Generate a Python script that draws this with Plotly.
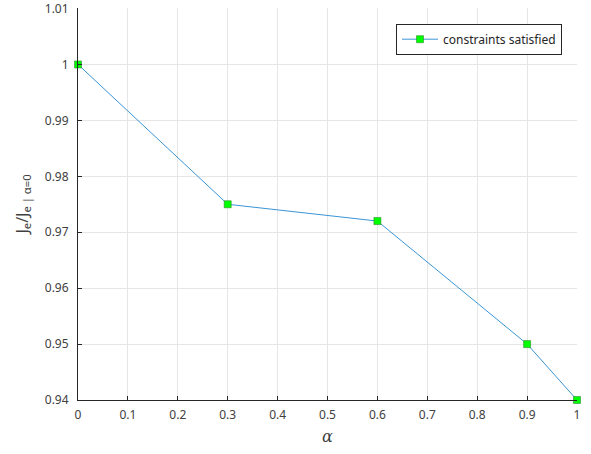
import plotly.graph_objects as go

alpha = [0, 0.3, 0.6, 0.9, 1.0]
ratio = [1.0, 0.975, 0.972, 0.950, 0.940]
x_ticks = [0, 0.1, 0.2, 0.3, 0.4, 0.5, 0.6, 0.7, 0.8, 0.9, 1]
y_ticks = [0.94, 0.95, 0.96, 0.97, 0.98, 0.99, 1.0, 1.01]
y_tick_labels = ["0.94", "0.95", "0.96", "0.97", "0.98", "0.99", "1", "1.01"]

fig = go.Figure()
fig.add_trace(go.Scatter(
    x=alpha, y=ratio, mode="lines+markers", name="constraints satisfied",
    line=dict(color="#3a95d4", width=1),
    marker=dict(symbol="square", size=7, color="#00ff00", line=dict(color="#2e8b2e", width=0.6)),
    cliponaxis=False,
))

axis_common = dict(
    showline=True, linecolor="#262626", linewidth=1, ticks="inside", ticklen=4,
    tickcolor="#262626", showgrid=True, gridcolor="#e6e6e6", gridwidth=1,
    zeroline=False, tickfont=dict(size=12, color="#404040"), mirror=False,
    automargin=False,
)

fig.update_layout(
    width=591, height=454,
    margin=dict(l=78, r=14, t=8, b=54),
    paper_bgcolor="white", plot_bgcolor="white",
    font=dict(family="Noto Sans", color="#262626"),
    showlegend=True,
    legend=dict(x=0.97, y=0.96, xanchor="right", yanchor="top",
                bordercolor="#262626", borderwidth=1, bgcolor="white",
                font=dict(size=12, color="#262626"), itemwidth=36,
                tracegroupgap=0),
    xaxis=dict(range=[0, 1], tickvals=x_ticks, ticktext=[("%g" % v) for v in x_ticks],
               ticklabelstandoff=4,
               title=dict(text="<i>α</i>", font=dict(size=16, color="#404040", family="DejaVu Serif"), standoff=8),
               **axis_common),
    yaxis=dict(range=[0.94, 1.0101], tickvals=y_ticks, ticktext=y_tick_labels,
               ticklabelstandoff=6, ticklabeloverflow="allow",
               title=dict(text="J<sub>e</sub>/J<sub>e | α=0</sub>", font=dict(size=16, color="#404040"), standoff=12),
               **axis_common),
)

fig.write_html("out.html")
